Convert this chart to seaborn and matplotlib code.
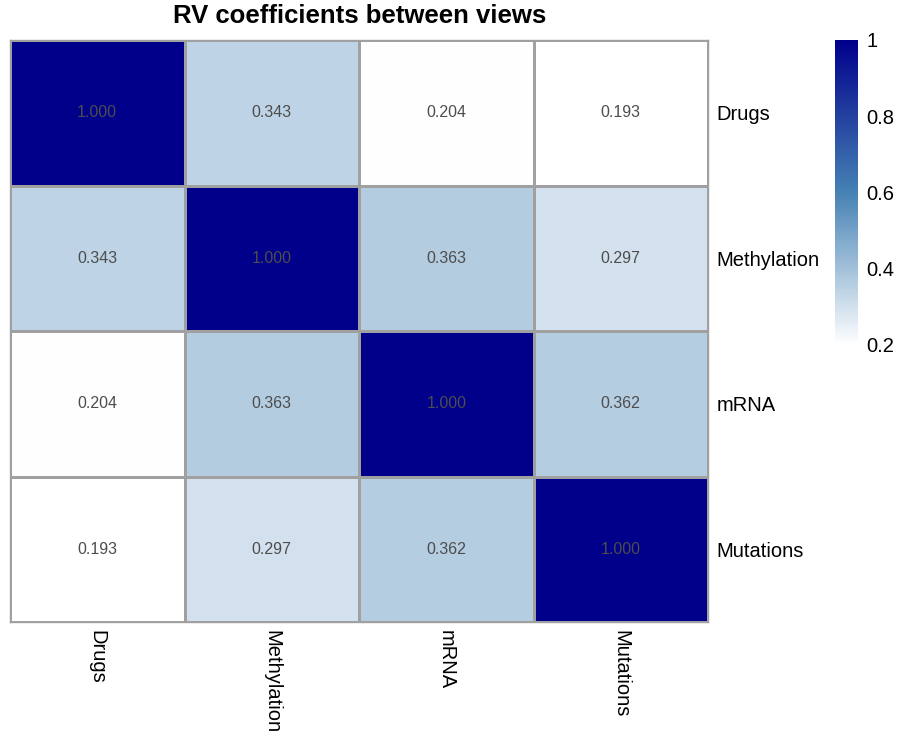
import numpy as np
import pandas as pd
import matplotlib
matplotlib.use("Agg")
import matplotlib.pyplot as plt
import seaborn as sns
from matplotlib.colors import LinearSegmentedColormap

views = ["Drugs", "Methylation", "mRNA", "Mutations"]
rv = [
    [1.000, 0.343, 0.204, 0.193],
    [0.343, 1.000, 0.363, 0.297],
    [0.204, 0.363, 1.000, 0.362],
    [0.193, 0.297, 0.362, 1.000],
]
cbar_ticks = [0.2, 0.4, 0.6, 0.8, 1.0]
cbar_labels = ["0.2", "0.4", "0.6", "0.8", "1"]

df = pd.DataFrame(rv, index=views, columns=views)

sns.set_theme(style="white")
plt.rcParams['font.family'] = ['Liberation Sans', 'DejaVu Sans']

cmap = LinearSegmentedColormap.from_list("rv", ["#FFFFFF", "#4682B4", "#00008B"], N=256)

fig = plt.figure(figsize=(9, 7.5), dpi=100)
ax = fig.add_axes([10/900, 1 - 622/750, 698/900, 582/750])
cax = fig.add_axes([835/900, 1 - 345/750, 23/900, 305/750])

sns.heatmap(df, ax=ax, cbar_ax=cax, cmap=cmap, vmin=0.2, vmax=1.0,
            annot=True, fmt=".3f", annot_kws={"color": "#4D4D4D", "fontsize": 11.5},
            linewidths=1.0, linecolor="#A0A0A0",
            cbar_kws={"ticks": cbar_ticks})

for s in ax.spines.values():
    s.set_visible(True)
    s.set_color("#A0A0A0")
    s.set_linewidth(1.0)

ax.yaxis.tick_right()
ax.set_yticklabels(views, rotation=0, fontsize=14.5, color="black")
ax.set_xticklabels(views, rotation=270, fontsize=14.5, color="black", va="top")
ax.tick_params(axis="both", length=0, pad=6)
ax.set_xlabel("")
ax.set_ylabel("")

cax.set_yticklabels(cbar_labels, fontsize=14.5, color="black")
cax.tick_params(length=0, pad=6)
for s in cax.spines.values():
    s.set_visible(False)

fig.text(360/900, 1 - 16/750, "RV coefficients between views", ha="center", va="center",
         fontsize=18.5, fontweight="bold", color="black")

fig.savefig("out.png", dpi=100)
